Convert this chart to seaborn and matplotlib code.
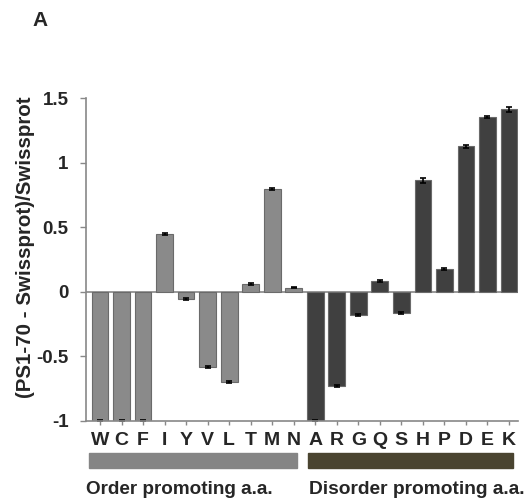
import matplotlib
matplotlib.use("Agg")
import matplotlib.pyplot as plt
import seaborn as sns
import pandas as pd

categories = ["W", "C", "F", "I", "Y", "V", "L", "T", "M", "N",
              "A", "R", "G", "Q", "S", "H", "P", "D", "E", "K"]
values = [-1.0, -1.0, -1.0, 0.447, -0.056, -0.58, -0.70, 0.058, 0.80, 0.034,
          -1.0, -0.73, -0.18, 0.085, -0.165, 0.866, 0.178, 1.13, 1.357, 1.415]
errors = [0.01, 0.01, 0.01, 0.008, 0.006, 0.008, 0.008, 0.008, 0.008, 0.006,
          0.01, 0.008, 0.006, 0.008, 0.006, 0.02, 0.01, 0.012, 0.008, 0.02]
groups = ["Order promoting a.a."] * 10 + ["Disorder promoting a.a."] * 10
group_labels = ["Order promoting a.a.", "Disorder promoting a.a."]
yticks = [-1, -0.5, 0, 0.5, 1, 1.5]
ytick_labels = ["-1", "-0.5", "0", "0.5", "1", "1.5"]

df = pd.DataFrame({"aa": categories, "val": values, "grp": groups})

sns.set_style("white")
plt.rcParams["font.family"] = ["Liberation Sans", "DejaVu Sans"]

fig = plt.figure(figsize=(5.25, 5.01), dpi=100)
ax = fig.add_axes([0.1638, 0.1597, 0.823, 0.644])

bar_colors = {"Order promoting a.a.": "#8a8a8a", "Disorder promoting a.a.": "#404040"}
sns.barplot(data=df, x="aa", y="val", hue="grp", palette=bar_colors,
            dodge=False, width=0.78, edgecolor="#6a6a6a", linewidth=0.8,
            legend=False, ax=ax)
ax.errorbar(range(len(categories)), values, yerr=errors, fmt="none",
            ecolor="black", elinewidth=1.2, capsize=2.5, capthick=1.2)

ax.axhline(0, color="#888888", lw=1.2, zorder=0.5)
ax.set_ylim(-1, 1.5)
ax.set_xlim(-0.65, len(categories) - 1 + 0.42)
ax.set_yticks(yticks)
ax.set_yticklabels(ytick_labels, fontsize=13.5, fontweight="bold")
ax.set_xticks(range(len(categories)))
ax.set_xticklabels(categories, fontsize=14, fontweight="bold")
ax.tick_params(axis="y", length=4.5, width=1, color="#888888", pad=8, direction="out", left=True)
ax.tick_params(axis="x", length=3, width=1, color="#888888", pad=5, direction="out", bottom=True)
ax.set_xlabel("")
ax.set_ylabel("(PS1-70 - Swissprot)/Swissprot", fontsize=14.8, fontweight="bold")
ax.yaxis.set_label_coords(-0.118, 0.54)
for s in ["top", "right"]:
    ax.spines[s].set_visible(False)
for s in ["left", "bottom"]:
    ax.spines[s].set_color("#888888")
    ax.spines[s].set_linewidth(1.2)

# group bars below the axis
W, H = 525, 501
fig.patches.append(plt.Rectangle((89 / W, 1 - 468 / H), (297 - 89) / W, 15 / H,
                                 transform=fig.transFigure, color="#858585"))
fig.patches.append(plt.Rectangle((308 / W, 1 - 468 / H), (513 - 308) / W, 15 / H,
                                 transform=fig.transFigure, color="#4a4430"))
fig.text(86 / W, 1 - 489 / H, group_labels[0], fontsize=13.6, fontweight="bold", va="center", ha="left")
fig.text(309 / W, 1 - 490 / H, group_labels[1], fontsize=13.8, fontweight="bold", va="center", ha="left")
fig.text(40 / W, 1 - 21 / H, "A", fontsize=15, fontweight="bold", va="center", ha="center")

fig.savefig("out.png", dpi=100)
